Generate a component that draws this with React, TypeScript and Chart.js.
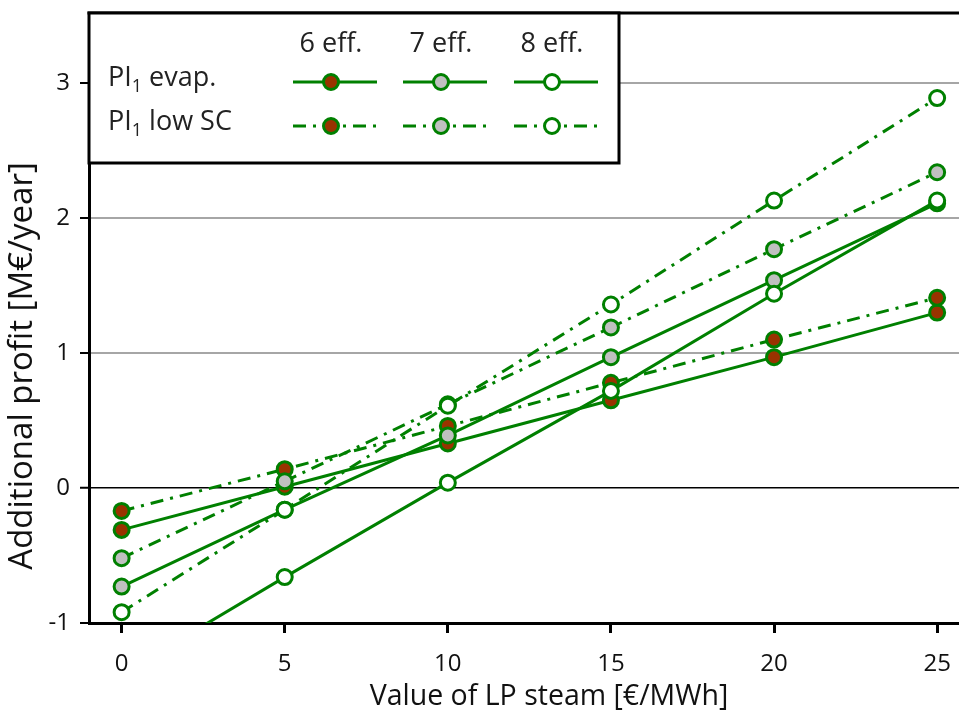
import React, { useEffect, useRef } from "react";
import { Chart, registerables } from "chart.js";

Chart.register(...registerables);

// ---- data ----
const steamValues = [0, 5, 10, 15, 20, 25];
const evap6 = [-0.31, 0.01, 0.33, 0.65, 0.97, 1.3];
const evap7 = [-0.73, -0.16, 0.39, 0.97, 1.54, 2.11];
const evap8 = [-1.38, -0.66, 0.04, 0.72, 1.44, 2.13];
const lowSC6 = [-0.17, 0.14, 0.46, 0.78, 1.1, 1.41];
const lowSC7 = [-0.52, 0.05, 0.62, 1.19, 1.77, 2.34];
const lowSC8 = [-0.92, -0.16, 0.61, 1.36, 2.13, 2.89];
const xTickValues = [0, 5, 10, 15, 20, 25];
const yTickValues = [-1, 0, 1, 2, 3];
const effLabels = ["6 eff.", "7 eff.", "8 eff."];
const rowLabels = [" evap.", " low SC"];
const xTitle = "Value of LP steam [€/MWh]";
const yTitle = "Additional profit [M€/year]";

// ---- style ----
const GREEN = "#008000";
const FILLS = ["#993300", "#c0c0c0", "#ffffff"];
const DASH_DOT = [13, 7, 3, 7];
const FONT = "'Open Sans', sans-serif";

const evapSeries = [evap6, evap7, evap8];
const lowSeries = [lowSC6, lowSC7, lowSC8];

function makeDataset(label: string, values: number[], eff: number, dashed: boolean) {
  return {
    label,
    data: steamValues.map((x, j) => ({ x, y: values[j] })),
    borderColor: GREEN,
    borderWidth: 3,
    borderDash: dashed ? DASH_DOT : [],
    pointRadius: 7.5,
    pointBorderWidth: 3,
    pointBackgroundColor: FILLS[eff],
    pointBorderColor: GREEN,
    showLine: true,
    fill: false,
    tension: 0,
    order: (2 - eff) * 2 + (dashed ? 0 : 1),
  };
}

function drawMarkerSample(ctx: CanvasRenderingContext2D, cx: number, cy: number, eff: number, dashed: boolean) {
  ctx.save();
  ctx.strokeStyle = GREEN;
  ctx.lineWidth = 3;
  ctx.setLineDash(dashed ? DASH_DOT : []);
  ctx.beginPath();
  ctx.moveTo(cx - 38, cy);
  ctx.lineTo(cx + 46, cy);
  ctx.stroke();
  ctx.setLineDash([]);
  ctx.beginPath();
  ctx.arc(cx, cy, 7.5, 0, Math.PI * 2);
  ctx.fillStyle = FILLS[eff];
  ctx.fill();
  ctx.stroke();
  ctx.restore();
}

const overlayPlugin = {
  id: "overlay",
  afterDraw(chart: any) {
    const { ctx, chartArea: a } = chart;
    ctx.save();
    // top frame line
    ctx.strokeStyle = "#000";
    ctx.lineWidth = 3;
    ctx.beginPath();
    ctx.moveTo(a.left - 1.5, a.top);
    ctx.lineTo(a.right, a.top);
    ctx.stroke();

    // legend box
    const lx = a.left;
    const ly = a.top;
    const lw = 530;
    const lh = 150;
    ctx.fillStyle = "#fff";
    ctx.fillRect(lx, ly, lw, lh);
    ctx.strokeRect(lx, ly, lw, lh);

    const cols = [lx + 242, lx + 352, lx + 463];
    ctx.fillStyle = "#222";
    ctx.font = `27px ${FONT}`;
    ctx.textAlign = "center";
    ctx.textBaseline = "middle";
    effLabels.forEach((t, i) => ctx.fillText(t, cols[i], ly + 31));

    const rows = [ly + 69, ly + 113];
    rowLabels.forEach((t, r) => {
      let x = lx + 19;
      const y = rows[r] - 4;
      ctx.textAlign = "left";
      ctx.font = `27px ${FONT}`;
      ctx.fillText("PI", x, y);
      x += ctx.measureText("PI").width;
      ctx.font = `18px ${FONT}`;
      ctx.fillText("1", x, y + 9);
      x += ctx.measureText("1").width;
      ctx.font = `27px ${FONT}`;
      ctx.fillText(t, x, y);
      for (let i = 0; i < 3; i++) drawMarkerSample(ctx, cols[i], rows[r], i, r === 1);
    });

    // axis titles
    ctx.fillStyle = "#111";
    ctx.font = `28.5px ${FONT}`;
    ctx.textAlign = "center";
    ctx.textBaseline = "middle";
    ctx.fillText(xTitle, 549, 697);
    ctx.font = `33px ${FONT}`;
    ctx.translate(23, 366);
    ctx.rotate(-Math.PI / 2);
    ctx.fillText(yTitle, 0, 0);
    ctx.restore();
  },
};

export default function App() {
  const ref = useRef<HTMLCanvasElement | null>(null);

  useEffect(() => {
    if (!ref.current) return;
    const datasets: any[] = [];
    for (let i = 0; i < 3; i++) {
      datasets.push(makeDataset(`PI1 evap. ${effLabels[i]}`, evapSeries[i], i, false));
      datasets.push(makeDataset(`PI1 low SC ${effLabels[i]}`, lowSeries[i], i, true));
    }
    const chart = new Chart(ref.current, {
      type: "line",
      data: { datasets },
      plugins: [overlayPlugin],
      options: {
        animation: false,
        responsive: false,
        devicePixelRatio: 1,
        layout: { autoPadding: false, padding: { top: 13, right: 0, bottom: 0, left: 0 } },
        plugins: { legend: { display: false }, tooltip: { enabled: false } },
        scales: {
          x: {
            type: "linear",
            min: -1,
            max: 25.67,
            afterFit: (s: any) => {
              s.height = 92;
              s.paddingLeft = 0;
              s.paddingRight = 0;
              s.paddingTop = 0;
              s.paddingBottom = 0;
            },
            afterBuildTicks: (s: any) => {
              s.ticks = xTickValues.map((v) => ({ value: v }));
            },
            border: { display: true, color: "#000", width: 3 },
            grid: {
              drawOnChartArea: false,
              drawTicks: true,
              tickLength: 10,
              tickColor: "#000",
              tickWidth: 3,
            },
            ticks: {
              padding: 17,
              color: "#111",
              font: { family: FONT, size: 24 },
              maxRotation: 0,
            },
          },
          y: {
            type: "linear",
            min: -1,
            max: 3.52,
            afterFit: (s: any) => {
              s.width = 89;
              s.paddingTop = 0;
              s.paddingBottom = 0;
              s.paddingLeft = 0;
              s.paddingRight = 0;
            },
            afterBuildTicks: (s: any) => {
              s.ticks = yTickValues.map((v) => ({ value: v }));
            },
            border: { display: true, color: "#000", width: 3 },
            grid: {
              drawOnChartArea: true,
              drawTicks: true,
              tickLength: 9,
              tickColor: "#000",
              tickWidth: 2,
              color: (c: any) =>
                c.tick && c.tick.value === 0 ? "#000" : c.tick && c.tick.value > 0 ? "#a6a6a6" : "rgba(0,0,0,0)",
              lineWidth: (c: any) => (c.tick && c.tick.value === 0 ? 1.5 : 2),
            },
            ticks: {
              padding: 10,
              color: "#111",
              font: { family: FONT, size: 24 },
            },
          },
        },
      },
    });
    return () => chart.destroy();
  }, []);

  return (
    <div style={{ position: "fixed", left: 0, top: 0, width: 959, height: 715, background: "#fff", overflow: "hidden" }}>
      <canvas ref={ref} width={959} height={715} style={{ display: "block" }} />
    </div>
  );
}
